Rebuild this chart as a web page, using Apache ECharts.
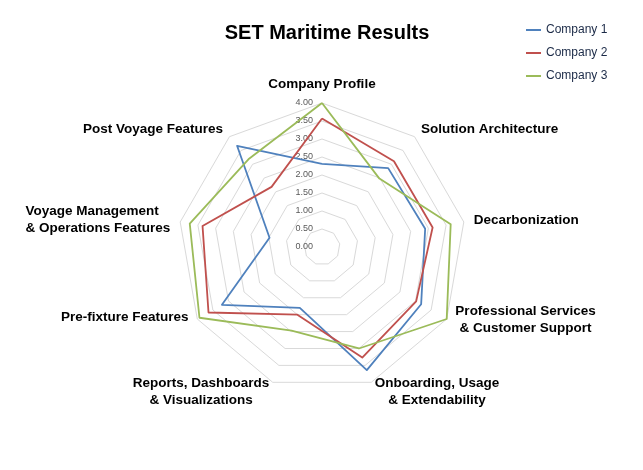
<!DOCTYPE html>
<html><head><meta charset="utf-8">
<script src="https://cdn.jsdelivr.net/npm/echarts@6/dist/echarts.min.js"></script>
<style>html,body{margin:0;padding:0;background:#fff}#c{width:643px;height:470px}</style>
</head><body><div id="c"></div>
<script>
const chartTitle = 'SET Maritime Results';
const indicatorNames = [
  'Company Profile',
  'Solution Architecture',
  'Decarbonization',
  'Professional Services\n& Customer Support',
  'Onboarding, Usage\n& Extendability',
  'Reports, Dashboards\n& Visualizations',
  'Pre-fixture Features',
  'Voyage Management\n& Operations Features',
  'Post Voyage Features'
];
const seriesNames = ['Company 1', 'Company 2', 'Company 3'];
const company1 = [2.31, 2.86, 2.91, 3.18, 3.64, 1.80, 3.21, 1.48, 3.67];
const company2 = [3.57, 3.11, 3.12, 3.02, 3.27, 2.00, 3.64, 3.37, 2.18];
const company3 = [4.00, 2.48, 3.63, 4.00, 3.00, 2.47, 3.93, 3.73, 3.18];
const axisMin = 0;
const axisMax = 4;
const tickLabels = ['0.00', '0.50', '1.00', '1.50', '2.00', '2.50', '3.00', '3.50', '4.00'];

const colors = ['#4F81BD', '#C0504D', '#9BBB59'];
const nameFont = { fontFamily: 'Liberation Sans', fontWeight: 'bold', fontSize: 13.5, color: '#000', lineHeight: 17 };

// ECharts lays radar indicators out counter-clockwise; reorder so they run clockwise.
const N = indicatorNames.length;
const order = indicatorNames.map(function (_, i) { return (N - i) % N; });
function reorder(arr) { return order.map(function (k) { return arr[k]; }); }

const indicators = reorder(indicatorNames).map(function (n, i) {
  const ind = { name: n, min: axisMin, max: axisMax };
  if (i === 0) {
    ind.axisLabel = {
      show: true,
      fontSize: 9,
      fontFamily: 'Liberation Sans',
      color: '#595959',
      margin: 9,
      showMinLabel: true,
      showMaxLabel: true,
      formatter: function (v) { return tickLabels[Math.round((v - axisMin) / 0.5)]; }
    };
  }
  if (n.indexOf('Pre-fixture') === 0) {
    ind.nameTextStyle = { padding: [0, 0, 14, 0] };
  }
  if (n.indexOf('Professional') === 0) {
    ind.nameTextStyle = { padding: [0, 0, 8, 0] };
  }
  return ind;
});

const chart = echarts.init(document.getElementById('c'));
chart.setOption({
  backgroundColor: '#fff',
  color: colors,
  title: {
    text: chartTitle,
    left: 322,
    textAlign: 'center',
    top: 18,
    textStyle: { fontFamily: 'Liberation Sans', fontWeight: 'bold', fontSize: 20, color: '#000' }
  },
  legend: {
    orient: 'vertical',
    left: 521,
    top: 19,
    itemGap: 11,
    itemWidth: 15,
    itemHeight: 2,
    icon: 'rect',
    data: seriesNames,
    textStyle: { fontFamily: 'Liberation Sans', fontSize: 12, color: '#1b2a47' }
  },
  radar: {
    center: [322, 247],
    radius: 144,
    startAngle: 90,
    shape: 'polygon',
    splitNumber: 8,
    nameGap: 10,
    indicator: indicators,
    axisLine: { show: false },
    axisTick: { show: false },
    axisLabel: { show: false },
    splitArea: { show: false },
    splitLine: { lineStyle: { color: '#d9d9d9', width: 1 } },
    axisName: {
      fontFamily: 'Liberation Sans',
      fontWeight: 'bold',
      fontSize: 13.5,
      color: '#000',
      formatter: function (name) {
        const key = name.indexOf('Voyage Management') === 0 ? 'l' : 'c';
        return name.split('\n').map(function (s) { return '{' + key + '|' + s + '}'; }).join('\n');
      },
      rich: {
        c: Object.assign({ align: 'center' }, nameFont),
        l: Object.assign({ align: 'left' }, nameFont)
      }
    }
  },
  series: [{
    type: 'radar',
    symbol: 'none',
    data: [
      { name: seriesNames[0], value: reorder(company1), lineStyle: { color: colors[0], width: 1.8 }, itemStyle: { color: colors[0] } },
      { name: seriesNames[1], value: reorder(company2), lineStyle: { color: colors[1], width: 1.8 }, itemStyle: { color: colors[1] } },
      { name: seriesNames[2], value: reorder(company3), lineStyle: { color: colors[2], width: 1.8 }, itemStyle: { color: colors[2] } }
    ]
  }]
});
</script>
</body></html>
